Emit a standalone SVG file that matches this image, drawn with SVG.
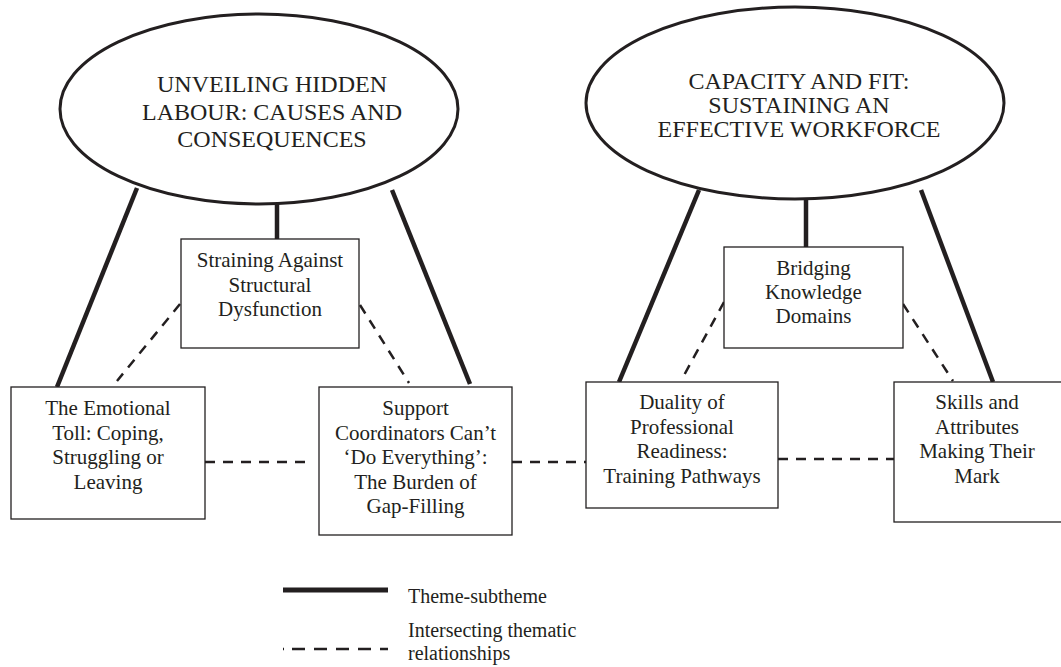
<svg xmlns="http://www.w3.org/2000/svg" width="1061" height="667" viewBox="0 0 1061 667">
<style>
text{font-family:"Liberation Serif","Times New Roman",serif;fill:#231f20;text-anchor:middle}
.theme{font-size:24px}
.sub{font-size:21px}
.leg{font-size:20px;text-anchor:start}
.ell{fill:#fff;stroke:#231f20;stroke-width:3}
.box{fill:#fff;stroke:#231f20;stroke-width:1.3}
.solid{stroke:#231f20;stroke-width:4.5;fill:none}
.dash{stroke:#231f20;stroke-width:2.5;stroke-dasharray:10 8;fill:none}
</style>
<g id="connectors">
<line class="solid" x1="137" y1="188" x2="57" y2="387"/>
<line class="solid" x1="277" y1="200" x2="277" y2="239"/>
<line class="solid" x1="392" y1="190" x2="470" y2="384"/>
<line class="solid" x1="699" y1="190" x2="619" y2="382"/>
<line class="solid" x1="806" y1="195" x2="806" y2="247"/>
<line class="solid" x1="921" y1="190" x2="993" y2="382"/>
<line class="dash" x1="180" y1="304" x2="117" y2="381"/>
<line class="dash" x1="360" y1="305" x2="409" y2="383"/>
<line class="dash" x1="205" y1="462" x2="312" y2="462"/>
<line class="dash" x1="512" y1="462" x2="586" y2="462"/>
<line class="dash" x1="724" y1="302" x2="682" y2="379"/>
<line class="dash" x1="903" y1="304" x2="953" y2="381"/>
<line class="dash" x1="778" y1="459" x2="894" y2="459"/>
</g>
<g id="theme1">
<ellipse class="ell" cx="259" cy="109" rx="199" ry="95"/>
<text class="theme" x="272" y="92">UNVEILING HIDDEN</text>
<text class="theme" x="272" y="119.5">LABOUR: CAUSES AND</text>
<text class="theme" x="272" y="147">CONSEQUENCES</text>
</g>
<g id="theme2">
<ellipse class="ell" cx="795" cy="103" rx="209" ry="96"/>
<text class="theme" x="799" y="89">CAPACITY AND FIT:</text>
<text class="theme" x="799" y="113">SUSTAINING AN</text>
<text class="theme" x="799" y="137">EFFECTIVE WORKFORCE</text>
</g>
<g id="straining">
<rect class="box" x="181" y="239" width="178" height="109"/>
<text class="sub" x="270" y="267">Straining Against</text>
<text class="sub" x="270" y="291.5">Structural</text>
<text class="sub" x="270" y="316">Dysfunction</text>
</g>
<g id="emotional">
<rect class="box" x="11" y="387" width="194" height="132"/>
<text class="sub" x="108" y="415">The Emotional</text>
<text class="sub" x="108" y="439.5">Toll: Coping,</text>
<text class="sub" x="108" y="464">Struggling or</text>
<text class="sub" x="108" y="488.5">Leaving</text>
</g>
<g id="support">
<rect class="box" x="319" y="387" width="193" height="148"/>
<text class="sub" x="415.5" y="415">Support</text>
<text class="sub" x="415.5" y="439.5">Coordinators Can’t</text>
<text class="sub" x="415.5" y="464">‘Do Everything’:</text>
<text class="sub" x="415.5" y="488.5">The Burden of</text>
<text class="sub" x="415.5" y="513">Gap-Filling</text>
</g>
<g id="bridging">
<rect class="box" x="724" y="247" width="179" height="101"/>
<text class="sub" x="813.5" y="275">Bridging</text>
<text class="sub" x="813.5" y="299">Knowledge</text>
<text class="sub" x="813.5" y="323">Domains</text>
</g>
<g id="duality">
<rect class="box" x="586" y="382" width="192" height="126"/>
<text class="sub" x="682" y="409">Duality of</text>
<text class="sub" x="682" y="433.5">Professional</text>
<text class="sub" x="682" y="458">Readiness:</text>
<text class="sub" x="682" y="482.5">Training Pathways</text>
</g>
<g id="skills">
<rect class="box" x="894" y="382" width="170" height="140"/>
<text class="sub" x="977" y="409">Skills and</text>
<text class="sub" x="977" y="433.5">Attributes</text>
<text class="sub" x="977" y="458">Making Their</text>
<text class="sub" x="977" y="482.5">Mark</text>
</g>
<g id="legend">
<line x1="283" y1="590" x2="388" y2="590" stroke="#231f20" stroke-width="5"/>
<text class="leg" x="408" y="603">Theme-subtheme</text>
<line x1="283" y1="649" x2="388" y2="649" stroke="#231f20" stroke-width="2.5" stroke-dasharray="1 8 13 9 13 9 13 9 13 9 13 9"/>
<text class="leg" x="408" y="637">Intersecting thematic</text>
<text class="leg" x="408" y="660">relationships</text>
</g>
</svg>
